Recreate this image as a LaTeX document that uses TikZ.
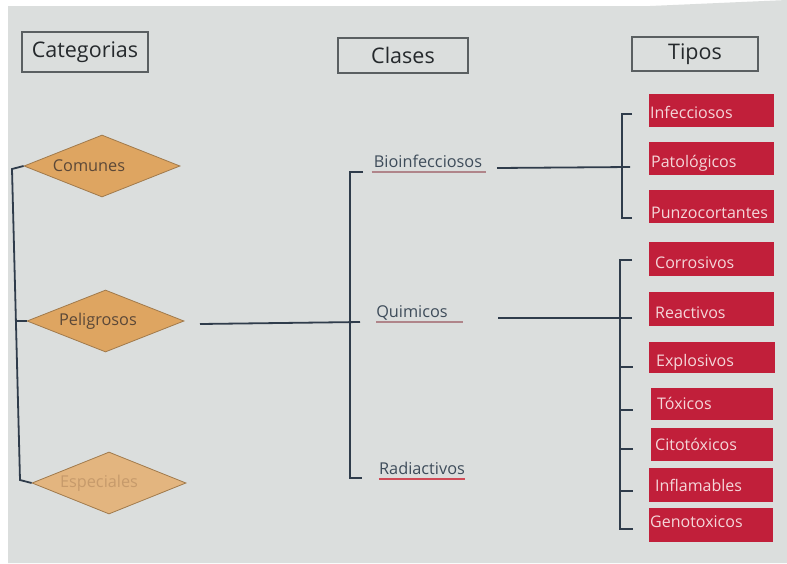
\documentclass[tikz,border=0pt]{standalone}
\usepackage{fontspec}
\setmainfont{Open Sans}
\usetikzlibrary{shapes.geometric,calc}

\definecolor{paper}{HTML}{DBDEDD}
\definecolor{hdrline}{HTML}{5A5F61}
\definecolor{hdrtext}{HTML}{25292C}
\definecolor{ink}{HTML}{2F3C4B}
\definecolor{classtext}{HTML}{3E4C5A}
\definecolor{boxred}{HTML}{C11F3A}
\definecolor{boxtext}{HTML}{F4D6D9}
\definecolor{diafill}{HTML}{DEA561}
\definecolor{diafillsoft}{HTML}{E3B57F}
\definecolor{diaedge}{HTML}{A07A4C}
\definecolor{diatext}{HTML}{5B4838}
\definecolor{diatextsoft}{HTML}{C69A6B}
\definecolor{ulsoft}{HTML}{B0858A}
\definecolor{ulred}{HTML}{D04A56}

\tikzset{
  header/.style={draw=hdrline, line width=1.1pt, text=hdrtext, inner sep=0pt,
    font=\fontsize{21.5}{24}\selectfont},
  category/.style={diamond, draw=diaedge, line width=0.8pt, fill=diafill,
    inner sep=0pt, minimum width=156pt, minimum height=62pt},
  cattext/.style={inner sep=0pt, anchor=base, text=diatext,
    font=\fontsize{16.3}{18}\selectfont},
  classtext/.style={inner sep=0pt, anchor=base, text=classtext,
    font=\fontsize{16.3}{18}\selectfont},
  redbox/.style={fill=boxred, inner sep=0pt, anchor=north west,
    minimum width=125pt, minimum height=33pt},
  redtext/.style={inner sep=0pt, anchor=base west, text=boxtext,
    font=\fontsize{16}{18}\selectfont},
  link/.style={draw=ink, line width=1.8pt},
  uline/.style={line width=1.8pt}
}

\begin{document}
\begin{tikzpicture}[x=1pt,y=-1pt]
\useasboundingbox (0,0) rectangle (787,563);

% page
\fill[white] (0,0) rectangle (787,563);
\fill[paper] (8,6) -- (650,6) -- (787,0) -- (787,563) -- (8,563) -- cycle;

% column headers
\node[header, minimum width=126pt, minimum height=40pt] (hcat) at (85,52) {Categorias};
\node[header, minimum width=130pt, minimum height=35pt] (hcla) at (403,55.5) {Clases};
\node[header, minimum width=126pt, minimum height=34pt] (htip) at (695,54) {Tipos};

% categories
\node[category] (d1) at (102,166) {};
\node[category, minimum width=157pt] (d2) at (105.5,321) {};
\node[category, minimum width=154pt, fill=diafillsoft] (d3) at (109,483) {};
\node[cattext] (c1) at (89,171) {Comunes};
\node[cattext] (c2) at (98,325) {Peligrosos};
\node[cattext, text=diatextsoft] (c3) at (99,487) {Especiales};

% bracket joining the categories
\coordinate (ltop) at (12,169);
\coordinate (lbot) at (20,480);
\draw[link] (d1.west) -- (ltop) -- (lbot) -- (d3.west);
\draw[link] (d2.west) -- (d2.west -| 15.5,0);

% classes
\node[classtext] (bio) at (428,167) {Bioinfecciosos};
\node[classtext] (qui) at (412,317) {Quimicos};
\node[classtext] (rad) at (422,474) {Radiactivos};
\draw[uline, draw=ulsoft] ($(bio.base west)+(-2,5)$) -- ($(bio.base east)+(4,5)$);
\draw[uline, draw=ulsoft] ($(qui.base west)+(0,5)$) -- ($(qui.base east)+(15,5)$);
\draw[uline, draw=ulred] ($(rad.base west)+(0,5)$) -- ($(rad.base east)+(0,5)$);

% bracket joining the classes
\coordinate (ktop) at (350,172);
\coordinate (kbot) at (350,478);
\draw[link] ($(ktop)+(13,0)$) -- (ktop) -- (kbot) -- ++(12,0);

% Peligrosos to the classes
\coordinate (pstart) at (200,324);
\coordinate (pend) at (360,322);
\draw[link] (pstart) -- (pend);

% types
\node[redbox] (t1) at (649,94) {};
\node[redbox] (t2) at (649,142) {};
\node[redbox] (t3) at (649,190) {};
\node[redbox, minimum height=34pt] (t4) at (649,242) {};
\node[redbox, minimum height=34pt] (t5) at (649,292) {};
\node[redbox, minimum width=126pt, minimum height=31pt] (t6) at (649,342) {};
\node[redbox, minimum width=122pt, minimum height=32pt] (t7) at (651,388) {};
\node[redbox, minimum width=122pt] (t8) at (651,428) {};
\node[redbox, minimum width=124pt, minimum height=34pt] (t9) at (649,468) {};
\node[redbox, minimum width=124pt, minimum height=34pt] (t10) at (649,508) {};

\node[redtext] (l1) at (650,118) {Infecciosos};
\node[redtext] (l2) at (651,167) {Patológicos};
\node[redtext] (l3) at (651,218) {Punzocortantes};
\node[redtext] (l4) at (655,268) {Corrosivos};
\node[redtext] (l5) at (655,318) {Reactivos};
\node[redtext] (l6) at (656,366) {Explosivos};
\node[redtext] (l7) at (657,409) {Tóxicos};
\node[redtext] (l8) at (655,450) {Citotóxicos};
\node[redtext] (l9) at (655,491) {Inflamables};
\node[redtext] (l10) at (650,527) {Genotoxicos};

% bracket for the bio-infectious types
\coordinate (s1top) at (622,114);
\coordinate (s1bot) at (622,218);
\draw[link] ($(s1top)+(10,0)$) -- (s1top) -- (s1bot) -- ++(10,0);

% bracket for the chemical types
\coordinate (s2top) at (620,260);
\coordinate (s2bot) at (620,529);
\draw[link] ($(s2top)+(12,0)$) -- (s2top) -- (s2bot) -- ++(13,0);
\foreach \yy in {367,410,449,491}
  \draw[link] (s2top |- 0,\yy) -- ++(13,0);

% classes to their types
\coordinate (bstart) at (497,168);
\coordinate (bend) at (630,167);
\draw[link] (bstart) -- (bend);
\coordinate (qstart) at (498,318);
\coordinate (qend) at (632,318);
\draw[link] (qstart) -- (qend);
\end{tikzpicture}
\end{document}
